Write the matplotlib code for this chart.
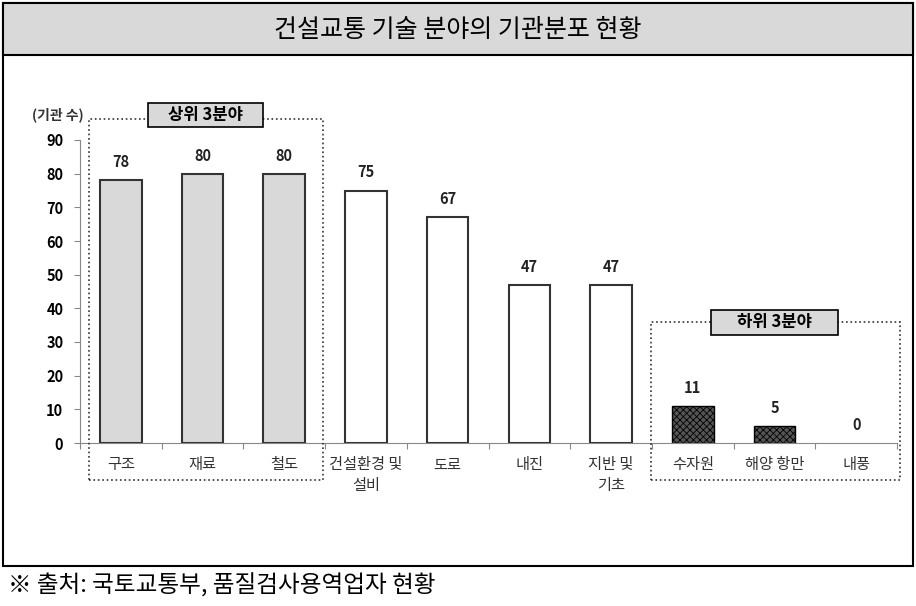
import matplotlib.pyplot as plt
from matplotlib.patches import Rectangle
import numpy as np

plt.rcParams['font.family'] = ['Noto Sans CJK KR', 'DejaVu Sans']
plt.rcParams['hatch.linewidth'] = 0.6

# data
categories = ['구조', '재료', '철도', '건설환경 및\n설비', '도로', '내진', '지반 및\n기초', '수자원', '해양 항만', '내풍']
values = [78, 80, 80, 75, 67, 47, 47, 11, 5, 0]
groups = ['top', 'top', 'top', 'mid', 'mid', 'mid', 'mid', 'low', 'low', 'low']

W, H = 916, 606
fig = plt.figure(figsize=(W / 100, H / 100), dpi=100)

def fx(px):
    return px / W

def fy(py):
    return 1 - py / H

def box(x0, y0, x1, y1, **kw):
    fig.patches.append(Rectangle((fx(x0), fy(y1)), fx(x1 - x0), (y1 - y0) / H,
                                 transform=fig.transFigure, **kw))

# outer frame and title band
box(3, 3, 913, 566, fill=False, edgecolor='black', linewidth=1.5)
box(3, 3, 913, 55, facecolor='#d9d9d9', edgecolor='black', linewidth=1.5)
fig.text(fx(458), fy(30), '건설교통 기술 분야의 기관분포 현황', ha='center', va='center', fontsize=18)
fig.text(fx(8), fy(586), '※ 출처: 국토교통부, 품질검사용역업자 현황', ha='left', va='center', fontsize=17)

# axes
ax = fig.add_axes([fx(80), fy(443), fx(817), (443 - 140) / H])
x = np.arange(len(categories))
for xi, v, g in zip(x, values, groups):
    if g == 'top':
        ax.bar(xi, v, width=0.51, color='#d9d9d9', edgecolor='#333333', linewidth=1.5)
    elif g == 'mid':
        ax.bar(xi, v, width=0.51, color='white', edgecolor='#333333', linewidth=1.5)
    else:
        if v > 0:
            ax.bar(xi, v, width=0.51, color='#555555', edgecolor='black', hatch='xxxxx', linewidth=1.0)
    ax.text(xi, v + 3, str(v), ha='center', va='bottom', fontsize=10.5, fontweight='bold', color='#222222')

ax.set_xlim(-0.5, len(categories) - 0.5)
ax.set_ylim(0, 90)
ax.set_yticks(range(0, 91, 10))
ax.set_xticks(np.arange(-0.5, len(categories), 1.0))
ax.set_xticklabels([])
ax.tick_params(axis='x', length=4, direction='out', color='#888888')
ax.tick_params(axis='y', length=4, color='#888888', labelsize=10.5, pad=8)
for lab in ax.get_yticklabels():
    lab.set_fontweight('bold')
for s in ['top', 'right']:
    ax.spines[s].set_visible(False)
ax.spines['left'].set_color('#888888')
ax.spines['bottom'].set_color('#888888')
for xi, c in zip(x, categories):
    ax.text(xi, -4, c, ha='center', va='top', fontsize=11, color='#333333', linespacing=1.3)

fig.text(fx(58), fy(115), '(기관 수)', ha='center', va='center', fontsize=10, fontweight='bold', color='#333333')

# group boxes
box(89, 119, 323, 480, fill=False, edgecolor='#333333', linestyle=':', linewidth=1.2)
box(651, 322, 900, 480, fill=False, edgecolor='#333333', linestyle=':', linewidth=1.2)
box(148, 103, 263, 127, facecolor='#d9d9d9', edgecolor='black', linewidth=1.2)
box(711, 310, 838, 335, facecolor='#d9d9d9', edgecolor='black', linewidth=1.2)
fig.text(fx(205.5), fy(115), '상위 3분야', ha='center', va='center', fontsize=12, fontweight='bold')
fig.text(fx(774.5), fy(322.5), '하위 3분야', ha='center', va='center', fontsize=12, fontweight='bold')

fig.savefig('out.png', dpi=100)
